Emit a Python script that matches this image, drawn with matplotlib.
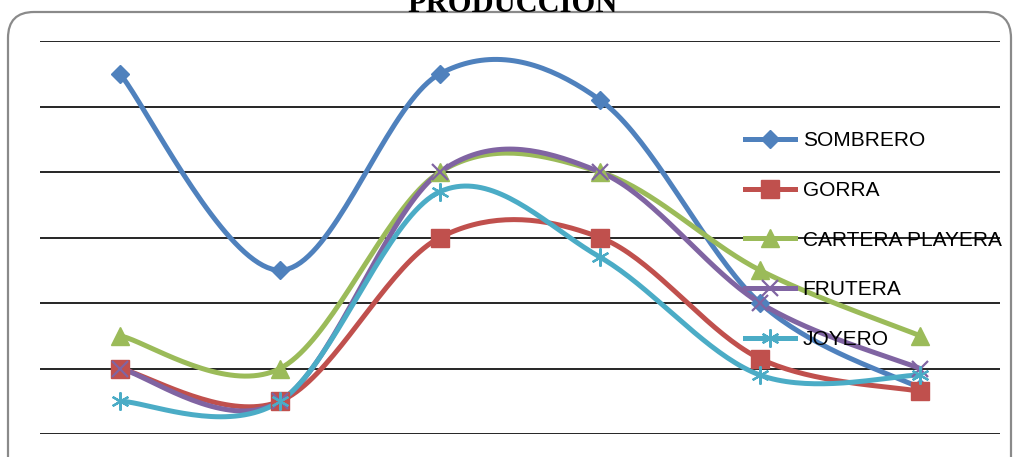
import numpy as np
import matplotlib.pyplot as plt
from matplotlib.lines import Line2D
from matplotlib.patches import FancyBboxPatch
from matplotlib.transforms import IdentityTransform

series_names = ["SOMBRERO", "GORRA", "CARTERA PLAYERA", "FRUTERA", "JOYERO"]
sombrero = [55, 25, 55, 51, 20, 7]
gorra = [10, 5, 30, 30, 11.5, 6.5]
cartera = [15, 10, 40, 40, 25, 15]
frutera = [10, 5, 40, 40, 20, 10]
joyero = [5, 5, 37, 27, 9, 9]
values = [sombrero, gorra, cartera, frutera, joyero]

colors = ["#4F81BD", "#C0504D", "#9BBB59", "#8064A2", "#4BACC6"]
markers = ["D", "s", "^", "x", (6, 2, 0)]
msizes = [9, 13, 13, 12, 13]
mews = [1, 1, 1, 1.6, 1.6]


def smooth(x, y, n=40):
    # excel-like smoothing: cubic bezier with catmull-rom control points
    x = np.asarray(x, float)
    y = np.asarray(y, float)
    px = np.concatenate([[x[0]], x, [x[-1]]])
    py = np.concatenate([[y[0]], y, [y[-1]]])
    outx, outy = [], []
    t = np.linspace(0, 1, n)
    for i in range(len(x) - 1):
        p0 = np.array([px[i + 1], py[i + 1]])
        p3 = np.array([px[i + 2], py[i + 2]])
        c1 = p0 + (np.array([px[i + 2], py[i + 2]]) - np.array([px[i], py[i]])) / 6
        c2 = p3 - (np.array([px[i + 3], py[i + 3]]) - np.array([px[i + 1], py[i + 1]])) / 6
        b = ((1 - t) ** 3)[:, None] * p0 + (3 * (1 - t) ** 2 * t)[:, None] * c1 \
            + (3 * (1 - t) * t ** 2)[:, None] * c2 + (t ** 3)[:, None] * p3
        outx.extend(b[:, 0])
        outy.extend(b[:, 1])
    return np.array(outx), np.array(outy)


W, H = 1016, 457
fig = plt.figure(figsize=(W / 100, H / 100), dpi=100)
ax = fig.add_axes([40 / W, (H - 434) / H, 960 / W, (434 - 41) / H])

border = FancyBboxPatch((8, -30), 1003, H - 12 + 30,
                        boxstyle="round,pad=0,rounding_size=26",
                        transform=IdentityTransform(), fill=False,
                        edgecolor="#8a8a8a", linewidth=1.6)
fig.patches.append(border)

xs = np.arange(6)
# pixel-space smoothing (x spacing 160px, 10 units = 65.5px)
sx = 160 / 65.5 * 10
for name, vals, c, m, ms, mew in zip(series_names, values, colors, markers, msizes, mews):
    cx, cy = smooth(xs * sx, vals)
    ax.plot(cx / sx, cy, color=c, lw=3.6, solid_capstyle="round", zorder=3)
    ax.plot(xs, vals, ls="none", marker=m, ms=ms, color=c, mec=c, mew=mew, zorder=4)

for yv in range(0, 61, 10):
    ax.axhline(yv, color="black", lw=1.2, zorder=1)

ax.set_xlim(-0.5, 5.5)
ax.set_ylim(0, 60)
ax.axis("off")

handles = [Line2D([0], [0], color=c, lw=3.6, marker=m, ms=ms, mec=c, mew=mew)
           for c, m, ms, mew in zip(colors, markers, msizes, mews)]
fig.legend(handles, series_names, loc="upper left", bbox_to_anchor=(735 / W, 1 - 121 / H),
           frameon=False, prop={"family": "Liberation Sans", "size": 15},
           handlelength=2.4, handletextpad=0.35, labelspacing=1.47, borderpad=0)

fig.text(513 / W, 1 - 12 / H, "PRODUCCION", ha="center", va="baseline",
         fontsize=22, fontweight="bold", family="Liberation Serif")

fig.savefig("out.png", dpi=100)
